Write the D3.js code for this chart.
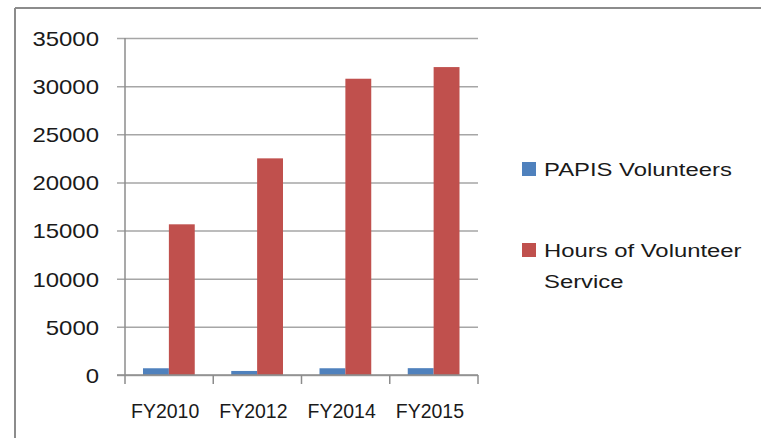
<!DOCTYPE html>
<html>
<head>
<meta charset="utf-8">
<script src="https://cdn.jsdelivr.net/npm/d3@7"></script>
<style>
  body { margin: 0; background: #fff; }
  text { font-family: "Liberation Sans", Arial, sans-serif; fill: #1a1a1a; }
</style>
</head>
<body>
<div id="chart"></div>
<script>
// fiscal years on x, two series side by side
var categories = ["FY2010", "FY2012", "FY2014", "FY2015"];
var seriesNames = ["PAPIS Volunteers", "Hours of Volunteer Service"];
var volunteers = [700, 420, 700, 710];
var hours = [15650, 22500, 30770, 31980];
var yTicks = [0, 5000, 10000, 15000, 20000, 25000, 30000, 35000];

var colors = ["#4F81BD", "#C0504D"];

var svgWidth = 761;
var svgHeight = 438;

// plot box
var plot = { left: 125, right: 478, top: 38, bottom: 375 };

var svg = d3.select("#chart")
  .append("svg")
  .attr("width", svgWidth)
  .attr("height", svgHeight);

// frame (only top and left edges show)
svg.append("line")
  .attr("x1", 15).attr("y1", 8).attr("x2", svgWidth).attr("y2", 8)
  .attr("stroke", "#8c8c8c").attr("stroke-width", 2);
svg.append("line")
  .attr("x1", 15).attr("y1", 8).attr("x2", 15).attr("y2", svgHeight)
  .attr("stroke", "#8c8c8c").attr("stroke-width", 2);

var data = categories.map(function(c, i) {
  return { cat: c, values: [volunteers[i], hours[i]] };
});

var xScale = d3.scaleBand()
  .domain(categories)
  .range([plot.left, plot.right]);

var xInner = d3.scaleBand()
  .domain(d3.range(seriesNames.length))
  .range([18, xScale.bandwidth() - 18.5]);

var yScale = d3.scaleLinear()
  .domain([0, 35000])
  .range([plot.bottom, plot.top]);

// stretch text horizontally a bit, the source font is wider
function stretch(sel, k) {
  sel.each(function() {
    var w = this.getComputedTextLength();
    d3.select(this)
      .attr("textLength", w * k)
      .attr("lengthAdjust", "spacingAndGlyphs");
  });
}

// gridlines + y axis
var leftAxis = d3.axisLeft(yScale)
  .tickValues(yTicks)
  .tickFormat(d3.format("d"))
  .tickSize(plot.right - plot.left + 8)
  .tickSizeOuter(0)
  .tickPadding(18);

var yAxis = svg.append("g")
  .attr("transform", `translate(${plot.right}, 0)`)
  .call(leftAxis);

yAxis.select(".domain").remove();
yAxis.selectAll(".tick line")
  .attr("stroke", "#a6a6a6")
  .attr("stroke-width", 1.5);
yAxis.selectAll(".tick text")
  .attr("x", -(plot.right - plot.left + 8) - 18)
  .attr("dy", "0.35em")
  .style("font-size", "21px")
  .attr("fill", "#1a1a1a")
  .call(stretch, 1.14);

// vertical axis line
svg.append("line")
  .attr("x1", plot.left).attr("x2", plot.left)
  .attr("y1", plot.top).attr("y2", plot.bottom)
  .attr("stroke", "#8c8c8c").attr("stroke-width", 1.5);

// bars
var groups = svg.selectAll(".group")
  .data(data)
  .enter()
  .append("g")
  .attr("class", "group")
  .attr("transform", d => `translate(${xScale(d.cat)}, 0)`);

groups.selectAll("rect")
  .data(d => d.values)
  .enter()
  .append("rect")
  .attr("x", (d, i) => xInner(i))
  .attr("width", xInner.bandwidth())
  .attr("y", d => yScale(d))
  .attr("height", d => yScale(0) - yScale(d))
  .attr("fill", (d, i) => colors[i]);

// x axis with tick marks on band edges
var bottomAxis = d3.axisBottom(xScale).tickSize(0).tickPadding(28);
var xAxis = svg.append("g")
  .attr("transform", `translate(0, ${plot.bottom})`)
  .call(bottomAxis);
xAxis.select(".domain").remove();
xAxis.selectAll(".tick text")
  .attr("x", -4)
  .style("font-size", "20.5px")
  .attr("fill", "#1a1a1a")
  .call(stretch, 0.95);

xAxis.append("line")
  .attr("x1", plot.left - 8).attr("x2", plot.right)
  .attr("y1", 0).attr("y2", 0)
  .attr("stroke", "#8c8c8c").attr("stroke-width", 1.5);

var edges = categories.map(c => xScale(c)).concat([plot.right]);
xAxis.selectAll(".edge")
  .data(edges)
  .enter()
  .append("line")
  .attr("class", "edge")
  .attr("x1", d => d).attr("x2", d => d)
  .attr("y1", 0).attr("y2", 9)
  .attr("stroke", "#8c8c8c").attr("stroke-width", 1.5);

// legend
var legendLines = [["PAPIS Volunteers"], ["Hours of Volunteer", "Service"]];
var legendY = [176, 257];

var legend = svg.append("g");
legendLines.forEach(function(lines, i) {
  legend.append("rect")
    .attr("x", 522)
    .attr("y", legendY[i] - 14)
    .attr("width", 14)
    .attr("height", 14)
    .attr("fill", colors[i]);
  lines.forEach(function(t, j) {
    legend.append("text")
      .attr("x", 544)
      .attr("y", legendY[i] + j * 31)
      .style("font-size", "18.8px")
      .text(t)
      .call(stretch, 1.27);
  });
});
</script>
</body>
</html>
